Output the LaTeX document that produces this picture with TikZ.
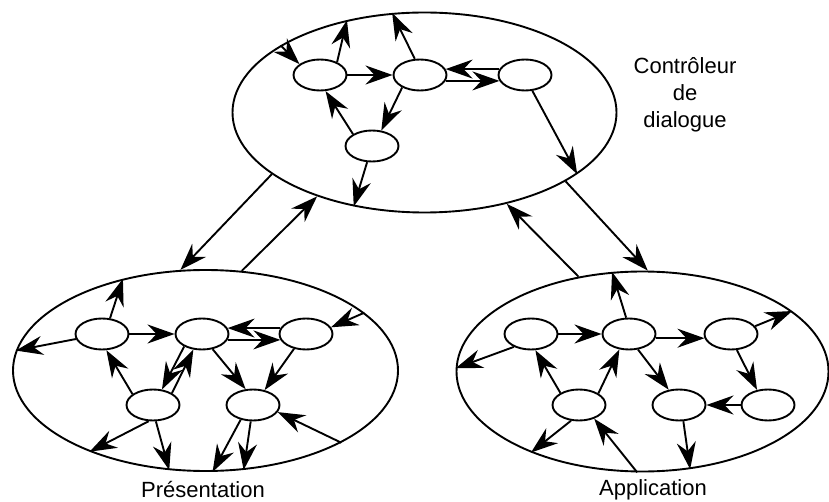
\documentclass[tikz,border=0pt]{standalone}
\usepackage{fontspec}
\setmainfont{Liberation Sans}
\usetikzlibrary{shapes.geometric,arrows.meta}
\begin{document}
\begin{tikzpicture}
    [
        x=1pt, y=-1pt, line width=1.9pt,
        big_style/.style={ellipse, draw=black, inner sep=0pt, minimum height=200pt},
        state_style/.style={ellipse, draw=black, inner sep=0pt, minimum width=53pt, minimum height=31pt},
        arc_style/.style={draw=black, -{Stealth[length=27pt,width=19pt,inset=9pt]}},
        text_style/.style={font=\fontsize{22}{27}\selectfont, align=center}
    ]
        \useasboundingbox (0,0) rectangle (829,502);

        % controleur de dialogue
        \node[big_style, minimum width=384pt] (ctl) at (424.5,112.5) {};
        \node[state_style] (c1) at (320,75) {};
        \node[state_style] (c2) at (420,75) {};
        \node[state_style] (c3) at (525,75) {};
        \node[state_style] (c4) at (372,146) {};
        \draw[arc_style] (ctl.155) -- (c1.152);
        \draw[arc_style] (c1.37) -- (ctl.130);
        \draw[arc_style] (c2.108) -- (ctl.108);
        \draw[arc_style] (c1) -- (c2);
        \draw[arc_style] (c3.167) -- (c2.13);
        \draw[arc_style] (c2.347) -- (c3.193);
        \draw[arc_style] (c4.148) -- (c1.289);
        \draw[arc_style] (c2.215) -- (c4.59);
        \draw[arc_style] (c4) -- (ctl.233);
        \draw[arc_style] (c3.295) -- (ctl.338);

        % presentation
        \node[big_style, minimum width=385pt, minimum height=201pt] (pre) at (205.5,370.5) {};
        \node[state_style] (p1) at (102,334) {};
        \node[state_style] (p2) at (202,334) {};
        \node[state_style] (p3) at (306,334) {};
        \node[state_style] (p4) at (153,405) {};
        \node[state_style] (p5) at (253,405) {};
        \draw[arc_style] (p1.63) -- (pre.132);
        \draw[arc_style] (p1) -- (pre.174);
        \draw[arc_style] (p1) -- (p2);
        \draw[arc_style] (p3.167) -- (p2.13);
        \draw[arc_style] (p2.347) -- (p3.193);
        \draw[arc_style] (pre.20) -- (p3.15);
        \draw[arc_style] (p4.152) -- (p1.285);
        \draw[arc_style] (p2.215) -- (p4.60);
        \draw[arc_style] (p4.32) -- (p2.241);
        \draw[arc_style] (p2.305) -- (p5.115);
        \draw[arc_style] (p3.231) -- (p5.52);
        \draw[arc_style] (p4.255) -- (pre.215);
        \draw[arc_style] (p4.280) -- (pre.250);
        \draw[arc_style] (p5.230) -- (pre.274);
        \draw[arc_style] (p5.262) -- (pre.291);
        \draw[arc_style] (pre.332) -- (p5.344);

        % application
        \node[big_style, minimum width=372pt] (app) at (642.5,371.5) {};
        \node[state_style] (a1) at (531,334) {};
        \node[state_style] (a2) at (629,334) {};
        \node[state_style] (a3) at (731,334) {};
        \node[state_style] (a4) at (579,405) {};
        \node[state_style] (a5) at (679,405) {};
        \node[state_style] (a6) at (768,405) {};
        \draw[arc_style] (a1) -- (a2);
        \draw[arc_style] (a2.351) -- (a3.189);
        \draw[arc_style] (a2.100) -- (app.107);
        \draw[arc_style] (a1.217) -- (app.179);
        \draw[arc_style] (a3.18) -- (app.22);
        \draw[arc_style] (a3.290) -- (a6.126);
        \draw[arc_style] (a6) -- (a5);
        \draw[arc_style] (a2.300) -- (a5.124);
        \draw[arc_style] (a4.147) -- (a1.285);
        \draw[arc_style] (a4.31) -- (a2.238);
        \draw[arc_style] (a4.243) -- (app.216);
        \draw[arc_style] (app.267) -- (a4.318);
        \draw[arc_style] (a5.285) -- (app.296);

        % liens entre les modules
        \draw[arc_style] (ctl.202) -- (pre.104);
        \draw[arc_style] (pre.70) -- (ctl.218);
        \draw[arc_style] (app.124) -- (ctl.312);
        \draw[arc_style] (ctl.334) -- (app.87.5);

        \node[text_style] (ctl_txt) at (685,95) {Contrôleur\\de\\dialogue};
        \node[text_style] (pre_txt) at (203,490) {Présentation};
        \node[text_style] (app_txt) at (653,490) {Application};
    \end{tikzpicture}
\end{document}
